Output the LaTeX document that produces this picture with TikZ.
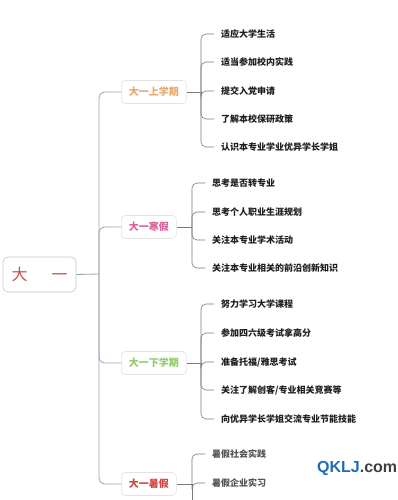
\documentclass[tikz,border=0pt]{standalone}
\usepackage{fontspec}
\newfontfamily\cjk{Noto Sans CJK SC}
\setmainfont{Liberation Sans}
\definecolor{trunkc}{HTML}{9C9CAE}
\definecolor{brc}{HTML}{7A7A7A}
\definecolor{boxc}{HTML}{E2E2E6}
\definecolor{c1}{HTML}{E6A86A}
\definecolor{c2}{HTML}{D8609E}
\definecolor{c3}{HTML}{8FCB6A}
\definecolor{c4}{HTML}{D0443C}
\definecolor{rootc}{HTML}{CC5048}
\definecolor{qblue}{HTML}{1F6DB5}
\tikzset{
  rootbox/.style={draw=boxc!70!gray, line width=0.6pt, rounded corners=5pt, fill=white, minimum width=73pt, minimum height=35pt, inner sep=0pt, font=\cjk\fontsize{16}{16}\selectfont, text=rootc},
  lvbox/.style={draw=boxc, line width=0.6pt, rounded corners=4pt, fill=white, minimum height=23pt, inner xsep=7.5pt, inner ysep=0pt, anchor=west, font=\cjk\bfseries\fontsize{10}{10}\selectfont},
  item/.style={anchor=west, inner xsep=7pt, inner ysep=2pt, font=\cjk\bfseries\fontsize{9}{9}\selectfont, text=black!88},
  trunk/.style={draw=trunkc, line width=0.8pt, rounded corners=6pt},
  br/.style={draw=brc, line width=0.6pt, rounded corners=5pt},
}
\begin{document}
\begin{tikzpicture}[x=1pt,y=-1pt]
\useasboundingbox (0,0) rectangle (398,500);
\clip (0,0) rectangle (398,500);
\fill[white] (0,0) rectangle (398,500);

% root
\node[rootbox] (root) at (39.5,274.5) {大\hspace{24pt}一};
\coordinate (j) at (99,274);

% level 1
\node[lvbox, text=c1] (n1) at (121,92) {大一上学期};
\node[lvbox, text=c2] (n2) at (121,227) {大一寒假};
\node[lvbox, text=c3] (n3) at (121,363) {大一下学期};
\node[lvbox, text=c4] (n4) at (121,484) {大一暑假};

\draw[trunk] (root.east) -- (j);
\draw[trunk] (j) |- (n1.west);
\draw[trunk] (j) |- (n2.west);
\draw[trunk] (j) |- (n3.west);
\draw[trunk] (j) |- (n4.west);

% group 1
\coordinate (b1) at (201,92);
\node[item] (a1) at (214,34) {适应大学生活};
\node[item] (a2) at (214,62) {适当参加校内实践};
\node[item] (a3) at (214,91) {提交入党申请};
\node[item] (a4) at (214,119) {了解本校保研政策};
\node[item] (a5) at (214,147) {认识本专业学业优异学长学姐};
\draw[br] (n1.east) -- (b1);
\foreach \i in {1,...,5} \draw[br] (b1) |- (a\i.west);

% group 2
\coordinate (b2) at (192,227);
\node[item] (d1) at (205,183) {思考是否转专业};
\node[item] (d2) at (205,212) {思考个人职业生涯规划};
\node[item] (d3) at (205,240) {关注本专业学术活动};
\node[item] (d4) at (205,268) {关注本专业相关的前沿创新知识};
\draw[br] (n2.east) -- (b2);
\foreach \i in {1,...,4} \draw[br] (b2) |- (d\i.west);

% group 3
\coordinate (b3) at (201,363);
\node[item] (e1) at (214,304) {努力学习大学课程};
\node[item] (e2) at (214,333) {参加四六级考试拿高分};
\node[item] (e3) at (214,362) {准备托福/雅思考试};
\node[item] (e4) at (214,390) {关注了解创客/专业相关竞赛等};
\node[item] (e5) at (214,419) {向优异学长学姐交流专业节能技能};
\draw[br] (n3.east) -- (b3);
\foreach \i in {1,...,5} \draw[br] (b3) |- (e\i.west);

% group 4
\coordinate (b4) at (192,484);
\coordinate (b4end) at (192,510);
\node[item, text=black!68] (f1) at (205,454) {暑假社会实践};
\node[item, text=black!68] (f2) at (205,483) {暑假企业实习};
\draw[br] (n4.east) -- (b4);
\draw[br] (b4) |- (f1.west);
\draw[br] (b4) |- (f2.west);
\draw[br] (b4) -- (b4end);

% watermark
\node[anchor=west, inner sep=0pt, font=\bfseries\fontsize{16}{16}\selectfont] (wm) at (317,468) {\textcolor{qblue}{QKLJ}\textcolor{black!75}{.com}};
\end{tikzpicture}
\end{document}
